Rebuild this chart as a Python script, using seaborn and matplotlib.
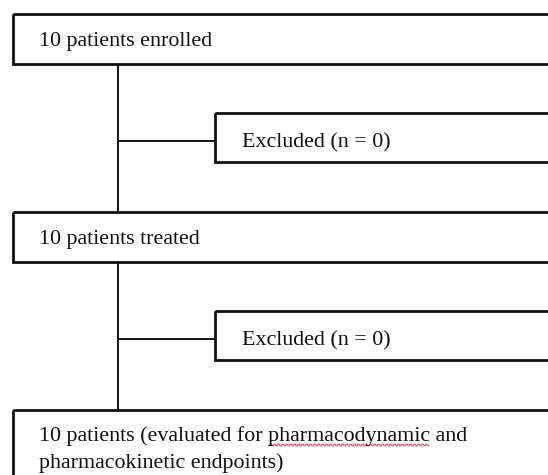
import matplotlib
matplotlib.use("Agg")
import matplotlib.pyplot as plt
from matplotlib.patches import Rectangle
import numpy as np
import seaborn as sns

sns.set_style("white")
plt.rcParams['font.family'] = ['Liberation Serif', 'DejaVu Serif']

# Flowchart content
main_labels = ["10 patients enrolled", "10 patients treated",
               "10 patients (evaluated for pharmacodynamic and\npharmacokinetic endpoints)"]
excluded_labels = ["Excluded (n = 0)", "Excluded (n = 0)"]

fig = plt.figure(figsize=(5.48, 4.75), dpi=100)
ax = fig.add_axes([0, 0, 1, 1])
ax.set_xlim(0, 548)
ax.set_ylim(475, 0)
ax.axis("off")

FS = 15.8
INK = "#111111"
lw = 2.0
main_boxes = [(14, 64), (212, 262), (410, 490)]
exc_boxes = [(113, 162), (311, 360)]
main_baselines = [46, 244]
exc_baselines = [147, 345]
x_main = 13
x_exc = 215
x_vert = 118

for (top, bot) in main_boxes:
    ax.add_patch(Rectangle((x_main, top), 600, bot - top, fill=False,
                           edgecolor=INK, lw=lw))
for (top, bot), lab, bl in zip(exc_boxes, excluded_labels, exc_baselines):
    ax.add_patch(Rectangle((x_exc, top), 600, bot - top, fill=False,
                           edgecolor=INK, lw=lw))
    ax.text(242, bl, lab, fontsize=FS, va="baseline", ha="left", color=INK)
    ax.plot([x_vert, x_exc], [(top + bot) / 2 + 3] * 2, color=INK, lw=1.4)

for i in range(2):
    ax.plot([x_vert, x_vert], [main_boxes[i][1], main_boxes[i + 1][0]], color=INK, lw=1.4)

for lab, bl in zip(main_labels[:2], main_baselines):
    ax.text(39, bl, lab, fontsize=FS, va="baseline", ha="left", color=INK)
line1, line2 = main_labels[2].split("\n")
ax.text(39, 441, line1, fontsize=FS, va="baseline", ha="left", color=INK)
ax.text(39, 468, line2, fontsize=FS, va="baseline", ha="left", color=INK)

# red spell-check squiggle under "pharmacodynamic"
fig.canvas.draw()
r = fig.canvas.get_renderer()
pre = ax.text(39, 441, "10 patients (evaluated for ", fontsize=FS, va="baseline", ha="left", alpha=0)
wrd = ax.text(39, 441, "10 patients (evaluated for pharmacodynamic", fontsize=FS, va="baseline", ha="left", alpha=0)
x0 = pre.get_window_extent(r).x1
x1 = wrd.get_window_extent(r).x1
pre.remove(); wrd.remove()
inv = ax.transData.inverted()
dx0 = inv.transform((x0, 0))[0]
dx1 = inv.transform((x1, 0))[0]
xs = np.arange(dx0, dx1, 1.0)
ys = 445 + 0.8 * np.where((np.arange(len(xs)) // 2) % 2 == 0, 1, -1)
ax.plot(xs, ys, color="#e05050", lw=0.8)

fig.savefig("out.png", dpi=100)
